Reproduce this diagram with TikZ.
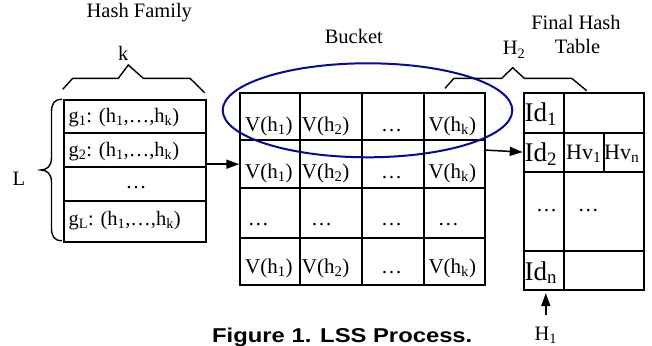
\documentclass[tikz,border=0pt]{standalone}
\usepackage{fontspec}
\setmainfont{Liberation Serif}
\newfontfamily\capfont{Liberation Sans}
\usetikzlibrary{arrows.meta}
\definecolor{navyline}{RGB}{10,10,140}
\newcommand{\sbs}[1]{\textsubscript{#1}}
\begin{document}
\begin{tikzpicture}[x=1pt,y=-1pt,
  cell/.style={draw, line width=1.8pt, inner sep=0pt, anchor=north west},
  lbl/.style={inner sep=0pt, anchor=base, font=\fontsize{20.5}{22}\selectfont},
  gtxt/.style={inner sep=0pt, anchor=base west, font=\fontsize{20.5}{22}\selectfont},
  vtxt/.style={inner sep=0pt, anchor=base west, font=\fontsize{21}{23}\selectfont},
  dots/.style={inner sep=0pt, anchor=base, font=\fontsize{21}{23}\selectfont},
  idtxt/.style={inner sep=0pt, anchor=base west, font=\fontsize{27}{29}\selectfont},
  hvtxt/.style={inner sep=0pt, anchor=base west, font=\fontsize{22}{24}\selectfont},
  arr/.style={line width=1.5pt, -{Triangle[length=13pt,width=9pt]}},
  bracel/.style={line width=1.4pt}]
\fill[white] (0,0) rectangle (652,345);
\useasboundingbox (0,0) rectangle (652,345);

% hash family box
\node[cell, minimum width=142, minimum height=33] (g1) at (62.7,99.3) {};
\node[cell, minimum width=142, minimum height=33.4] (g2) at (62.7,132.3) {};
\node[cell, minimum width=142, minimum height=34.6] (g3) at (62.7,165.7) {};
\node[cell, minimum width=142, minimum height=40.4] (g4) at (62.7,200.3) {};
\node[gtxt] (tg1) at (68.3,122.7) {g\sbs{1}: (h\sbs{1},…,h\sbs{k})};
\node[gtxt] (tg2) at (68.3,156.7) {g\sbs{2}: (h\sbs{1},…,h\sbs{k})};
\node[dots] (tg3) at (136,188.3) {…};
\node[gtxt] (tg4) at (68.3,225) {g\sbs{L}: (h\sbs{1},…,h\sbs{k})};

% bucket grid
\foreach \c/\x/\w in {1/239.3/59.7, 2/299/61.7, 3/360.7/62, 4/422.7/61.3}
  \foreach \r/\y/\h in {1/91.7/47.6, 2/139.3/48, 3/187.3/49.4, 4/236.7/47.3}
    \node[cell, minimum width=\w, minimum height=\h] (b\r\c) at (\x,\y) {};
\foreach \r/\y in {1/131.7, 2/178.3, 4/273.3}{
  \node[vtxt] (v\r a) at (245,\y) {V(h\sbs{1})};
  \node[vtxt] (v\r b) at (301.7,\y) {V(h\sbs{2})};
  \node[dots] (v\r c) at (391.7,\y) {…};
  \node[vtxt] (v\r d) at (428.3,\y) {V(h\sbs{k})};
}
\node[dots] (v3a) at (258.3,225) {…};
\node[dots] (v3b) at (321.7,225) {…};
\node[dots] (v3c) at (391.7,225) {…};
\node[dots] (v3d) at (448.3,225) {…};

% final hash table
\node[cell, minimum width=40, minimum height=39.4] (id1) at (522.7,92.3) {};
\node[cell, minimum width=80.6, minimum height=39.4] (f1) at (562.7,92.3) {};
\node[cell, minimum width=40, minimum height=39] (id2) at (522.7,131.7) {};
\node[cell, minimum width=40, minimum height=39] (hv1) at (562.7,131.7) {};
\node[cell, minimum width=40.6, minimum height=39] (hvn) at (602.7,131.7) {};
\node[cell, minimum width=40, minimum height=79.3] (id3) at (522.7,170.7) {};
\node[cell, minimum width=80.6, minimum height=79.3] (f3) at (562.7,170.7) {};
\node[cell, minimum width=40, minimum height=39.3] (idn) at (522.7,250) {};
\node[cell, minimum width=80.6, minimum height=39.3] (fn) at (562.7,250) {};
\node[idtxt] (tid1) at (524.3,121.7) {Id\sbs{1}};
\node[idtxt] (tid2) at (524.3,161.7) {Id\sbs{2}};
\node[idtxt] (tidn) at (524.3,280) {Id\sbs{n}};
\node[hvtxt] (thv1) at (566,159.3) {Hv\sbs{1}};
\node[hvtxt] (thvn) at (604,159.3) {Hv\sbs{n}};
\node[dots] (td1) at (546.7,211.7) {…};
\node[dots] (td2) at (588.3,211.7) {…};

% labels
\node[lbl] (lhf) at (139.3,17.3) {Hash Family};
\node[lbl] (lk) at (123.3,60) {k};
\node[lbl] (lL) at (19,185) {L};
\node[lbl] (lb) at (353.8,43.3) {Bucket};
\node[lbl] (lf1) at (576,30) {Final Hash};
\node[lbl] (lf2) at (577.5,53.3) {Table};
\node[lbl, anchor=base west] (lh2) at (502.7,55) {H\sbs{2}};
\node[lbl] (lh1) at (545.8,340) {H\sbs{1}};
\node[inner sep=0pt, anchor=base west] (cap) at (212,342.3)
  {\capfont\bfseries\fontsize{20}{22}\selectfont\scalebox{1.19}[1]{Figure 1. LSS Process.}};

% braces
\draw[bracel] (62.7,89.3) -- (72.7,78.3) -- (118.3,78.3) -- (128.3,65) -- (143.3,78.3) -- (190,78.3) -- (204.7,92.7);
\draw[bracel] (445,88.3) -- (454,78.3) -- (501.7,78.3) -- (512.7,67.7) -- (524.3,78.3) -- (571.7,78.3) -- (586.7,90.7);
\draw[bracel] (62,99.3) .. controls (54,99.3) and (51.5,104) .. (51.5,112) -- (51.5,158)
  .. controls (51.5,166) and (47,170) .. (40.7,170)
  .. controls (47,170) and (51.5,174) .. (51.5,182) -- (51.5,228)
  .. controls (51.5,236) and (54,240.7) .. (62,240.7);

% arrows
\coordinate (s2) at (484,150);
\draw[arr] (b21.west -| g2.east) -- (b21.west);
\draw[arr] (s2) -- (id2.west);
\draw[arr, shorten <=11pt, shorten >=2pt] (lh1.north) -- (lh1.north |- idn.south);

% ellipse
\draw[navyline, line width=2pt] (367.5,110.3) ellipse [x radius=144.8, y radius=47];
\end{tikzpicture}
\end{document}
